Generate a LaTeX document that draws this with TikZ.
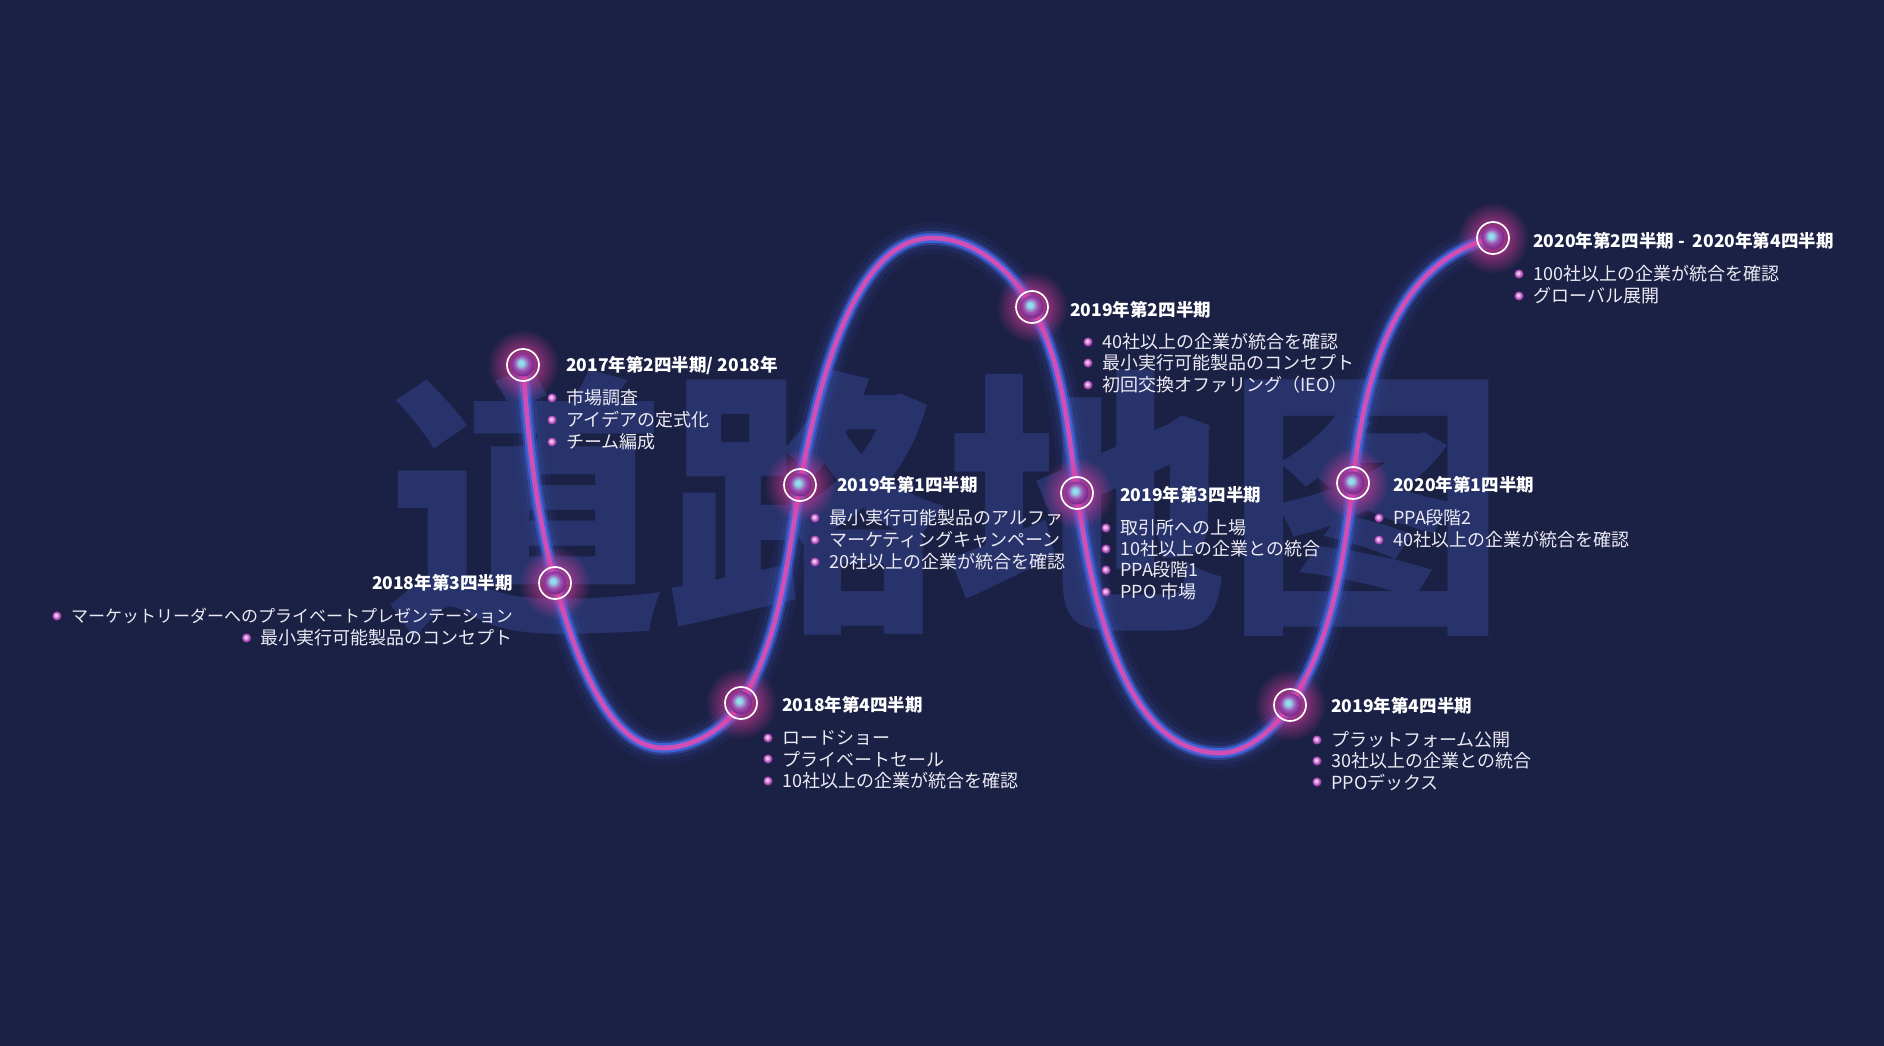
\documentclass[tikz,border=0pt]{standalone}
\usepackage{fontspec}
\setmainfont{Noto Sans CJK JP}
\newfontfamily\wmfont{Noto Sans CJK SC}
\usetikzlibrary{fadings}
\definecolor{bg}{HTML}{1B2145}
\definecolor{water}{HTML}{27336A}
\definecolor{cblue}{HTML}{4262D8}
\definecolor{cpink}{HTML}{CF4FB4}
\definecolor{glowpink}{HTML}{E23C9E}
\definecolor{sphc}{HTML}{8FE0EC}
\definecolor{sphm}{HTML}{A04CB0}
\definecolor{sphd}{HTML}{7A2C8C}
\definecolor{bhl}{HTML}{F4D2F4}
\definecolor{bmid}{HTML}{C462C8}
\definecolor{bdark}{HTML}{7C3090}
\definecolor{bodytext}{HTML}{ECEAF4}
\pgfdeclareradialshading{sphere}{\pgfpoint{-5bp}{5bp}}{color(0bp)=(sphc); color(5bp)=(sphc); color(16bp)=(sphm); color(25bp)=(sphd); color(50bp)=(sphd)}
\pgfdeclareradialshading{bsph}{\pgfpoint{-6bp}{6bp}}{color(0bp)=(bhl); color(4bp)=(bhl); color(16bp)=(bmid); color(25bp)=(bdark); color(50bp)=(bdark)}
\tikzfading[name=glowfade, inner color=transparent!5, outer color=transparent!100]
\newcommand\milestone[1]{%
  \fill[glowpink, path fading=glowfade] (#1) circle (36);
  \shade[shading=sphere] (#1) circle (11.5);
  \draw[white, line width=1.7] (#1) circle (16);
}
\newcommand\bitem[4]{%
  \node[item] (#1) at (#2,#3) {#4};
  \shade[shading=bsph] ([xshift=-14pt]#1.west) circle (4.6);
}
\newcommand\bitemr[4]{%
  \node[item, anchor=east] (#1) at (#2,#3) {#4};
  \shade[shading=bsph] ([xshift=-14pt]#1.west) circle (4.6);
}
\begin{document}
\begin{tikzpicture}[x=1pt,y=-1pt,
  title/.style={anchor=west, inner sep=0pt, text=white, font=\fontsize{17.5}{21}\bfseries\selectfont},
  item/.style={anchor=west, inner sep=0pt, text=bodytext, font=\fontsize{18}{21}\selectfont},
  wm/.style={inner sep=0pt, text=water, font=\wmfont\bfseries\fontsize{280}{280}\selectfont}]
\fill[bg] (0,0) rectangle (1884,1046);
\useasboundingbox (0,0) rectangle (1884,1046);
% watermark
\node[wm] (wm) at (946,503) {道路地图};
% milestone and turning-point coordinates
\coordinate (m1) at (523,365);
\coordinate (m2) at (555,583);
\coordinate (b1) at (663,748);
\coordinate (m3) at (741,703);
\coordinate (m4) at (800,485);
\coordinate (t1) at (932,238);
\coordinate (m5) at (1032,307);
\coordinate (m6) at (1077,493);
\coordinate (b2) at (1220,753);
\coordinate (m7) at (1290,705);
\coordinate (m8) at (1353,483);
\coordinate (m9) at (1493,238);
% wave
\foreach \w/\c/\o in {32/cblue/0.06, 22/cblue/0.12, 14/cblue/0.4, 9.5/cblue/1, 4.8/cpink/1}{
  \draw[line width=\w, color=\c, opacity=\o, line cap=round]
    (m1) .. controls (528,438) and (536,512) .. (m2)
         .. controls (576,660) and (610,748) .. (b1)
         .. controls (693,748) and (725.4,728.5) .. (m3)
         .. controls (780.2,639) and (787.4,559.2) .. (m4)
         .. controls (820,370) and (858,238) .. (t1)
         .. controls (975,238) and (1012,271.2) .. (m5)
         .. controls (1063,362.8) and (1068,429.8) .. (m6)
         .. controls (1090.8,590.9) and (1121,753) .. (b2)
         .. controls (1248,753) and (1274.4,728.5) .. (m7)
         .. controls (1332.4,641.1) and (1343.8,559.2) .. (m8)
         .. controls (1367,343) and (1410,258) .. (m9);
}
% milestones
\foreach \m in {m1,m2,m3,m4,m5,m6,m7,m8,m9}{\milestone{\m}}
% G1
\node[title] (t1l) at (566,366) {2017年第2四半期/ 2018年};
\bitem{a1}{566}{398}{市場調査}
\bitem{a2}{566}{420}{アイデアの定式化}
\bitem{a3}{566}{442}{チーム編成}
% G2
\node[title, anchor=east] (t2l) at (513,583) {2018年第3四半期};
\node[item, anchor=east, font=\fontsize{17}{21}\selectfont] (b1l) at (513,616) {マーケットリーダーへのプライベートプレゼンテーション};
\shade[shading=bsph] ([xshift=-14pt]b1l.west) circle (4.6);
\bitemr{b2l}{513}{638}{最小実行可能製品のコンセプト}
% G3
\node[title] (t3l) at (782,705) {2018年第4四半期};
\bitem{c1}{782}{738}{ロードショー}
\bitem{c2}{782}{759}{プライベートセール}
\bitem{c3}{782}{781}{10社以上の企業が統合を確認}
% G4
\node[title] (t4l) at (837,485) {2019年第1四半期};
\bitem{d1}{829}{518}{最小実行可能製品のアルファ}
\bitem{d2}{829}{540}{マーケティングキャンペーン}
\bitem{d3}{829}{562}{20社以上の企業が統合を確認}
% G5
\node[title] (t5l) at (1070,310) {2019年第2四半期};
\bitem{e1}{1102}{342}{40社以上の企業が統合を確認}
\bitem{e2}{1102}{363}{最小実行可能製品のコンセプト}
\bitem{e3}{1102}{385}{初回交換オファリング（IEO）}
% G6
\node[title] (t6l) at (1120,495) {2019年第3四半期};
\bitem{f1}{1120}{528}{取引所への上場}
\bitem{f2}{1120}{549}{10社以上の企業との統合}
\bitem{f3}{1120}{570}{PPA段階1}
\bitem{f4}{1120}{592}{PPO 市場}
% G7
\node[title] (t7l) at (1331,706) {2019年第4四半期};
\bitem{g1}{1331}{740}{プラットフォーム公開}
\bitem{g2}{1331}{761}{30社以上の企業との統合}
\bitem{g3}{1331}{782}{PPOデックス}
% G8
\node[title] (t8l) at (1393,485) {2020年第1四半期};
\bitem{h1}{1393}{518}{PPA段階2}
\bitem{h2}{1393}{540}{40社以上の企業が統合を確認}
% G9
\node[title] (t9l) at (1533,241) {2020年第2四半期 -\ \ 2020年第4四半期};
\bitem{i1}{1533}{274}{100社以上の企業が統合を確認}
\bitem{i2}{1533}{296}{グローバル展開}
\end{tikzpicture}
\end{document}
